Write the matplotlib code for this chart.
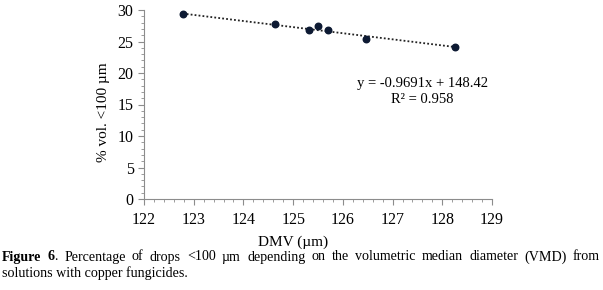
import matplotlib
matplotlib.use("Agg")
import matplotlib.pyplot as plt
import numpy as np
from matplotlib.ticker import MultipleLocator

dmv = [122.78, 124.64, 125.31, 125.51, 125.70, 126.46, 128.25]
pct = [29.4, 27.7, 26.8, 27.4, 26.8, 25.4, 24.2]
slope, intercept = -0.9691, 148.42

plt.rcParams['font.family'] = ['Liberation Serif', 'DejaVu Serif']
W, H = 603, 290
fig = plt.figure(figsize=(W/100, H/100), dpi=100)
ax = fig.add_axes([144/W, 1-199/H, (492-144)/W, (199-10)/H])

ax.scatter(dmv, pct, s=22, color='#0d1a33', zorder=3)
xs = np.array([min(dmv), max(dmv)])
ax.plot(xs, slope*xs + intercept, linestyle=(0, (1, 1.2)), color='#222222', lw=1.3)

ax.set_xlim(122, 129)
ax.set_ylim(0, 30)
ax.xaxis.set_major_locator(MultipleLocator(1))
ax.xaxis.set_minor_locator(MultipleLocator(0.2))
ax.yaxis.set_major_locator(MultipleLocator(5))
ax.yaxis.set_minor_locator(MultipleLocator(1))
for s in ['top', 'right']:
    ax.spines[s].set_visible(False)
for s in ['left', 'bottom']:
    ax.spines[s].set_color('#8c8c8c')
ax.tick_params(which='major', length=4, color='#8c8c8c', labelsize=11.5, direction='out')
ax.tick_params(axis='x', which='major', pad=5)
ax.tick_params(which='minor', length=2, color='#8c8c8c', direction='out')

ax.text(127.6, 18.4, 'y = -0.9691x + 148.42', ha='center', va='center', fontsize=10.5)
ax.text(127.6, 15.8, 'R² = 0.958', ha='center', va='center', fontsize=10.5)

fig.text(293/W, 1-242/H, 'DMV (µm)', ha='center', va='center', fontsize=11)
fig.text(103/W, 1-112/H, '% vol. <100 µm', rotation=90, ha='center', va='center', fontsize=11)

# Caption (first line justified)
fs = 10.1
words = [[('Figure', 'bold')], [('6', 'bold'), ('.', 'normal')]] + \
    [[(w, 'normal')] for w in 'Percentage of drops <100 µm depending on the volumetric median diameter (VMD) from'.split()]
renderer = fig.canvas.get_renderer()
def seg_width(t, wt):
    tt = fig.text(0, 0, t, fontsize=fs, weight=wt)
    w = tt.get_window_extent(renderer).width
    tt.remove()
    return w
widths = [[seg_width(t, wt) for t, wt in wd] for wd in words]
total = sum(sum(w) for w in widths)
left, right = 2, 600
gap = (right - left - total) / (len(words) - 1)
x = left
y1 = 1 - 257/H
for wd, ws in zip(words, widths):
    xx = x
    for (t, wt), w in zip(wd, ws):
        fig.text(xx/W, y1, t, ha='left', va='center', fontsize=fs, weight=wt)
        xx += w
    x += sum(ws) + gap
fig.text(left/W, 1-273/H, 'solutions with copper fungicides.', ha='left', va='center', fontsize=fs)

fig.savefig('out.png', dpi=100)
